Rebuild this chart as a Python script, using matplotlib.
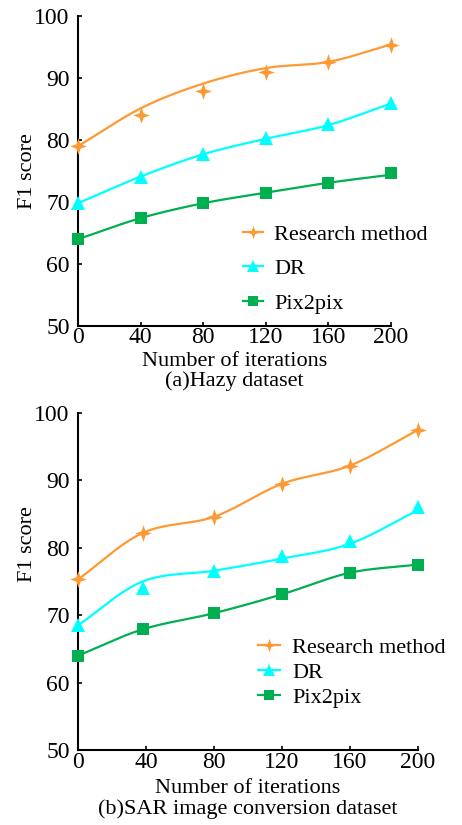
import numpy as np
import matplotlib
matplotlib.use("Agg")
import matplotlib.pyplot as plt
from matplotlib.path import Path

plt.rcParams['font.family'] = ['Liberation Serif', 'DejaVu Serif']
plt.rcParams['mathtext.fontset'] = 'stix'

# ---------------- data ----------------
iters_a = [0, 40, 80, 120, 160, 200]
iters_b = [0, 38, 80, 120, 160, 200]
xticks = [0, 40, 80, 120, 160, 200]
yticks = [50, 60, 70, 80, 90, 100]
series_names = ["Research method", "DR", "Pix2pix"]

# (a) Hazy dataset: marker values and smoothed trend values
hazy_research = [79.0, 84.1, 87.9, 90.9, 92.6, 95.4]
hazy_research_trend = [79.0, 85.1, 89.1, 91.6, 92.6, 95.4]
hazy_dr = [69.8, 74.1, 77.7, 80.4, 82.6, 85.9]
hazy_dr_trend = [69.8, 74.1, 77.7, 80.2, 82.4, 85.9]
hazy_pix = [64.0, 67.4, 69.8, 71.5, 73.1, 74.6]
hazy_pix_trend = [64.0, 67.4, 69.8, 71.5, 73.1, 74.4]

# (b) SAR image conversion dataset
sar_research = [75.3, 82.2, 84.6, 89.5, 92.2, 97.5]
sar_research_trend = [75.3, 82.2, 84.6, 89.5, 92.2, 97.5]
sar_dr = [68.5, 74.0, 76.6, 78.8, 81.0, 86.0]
sar_dr_trend = [68.5, 75.0, 76.6, 78.4, 80.6, 85.6]
sar_pix = [64.0, 67.9, 70.3, 73.1, 76.3, 77.5]
sar_pix_trend = [64.0, 67.9, 70.3, 73.1, 76.3, 77.5]

colors = ["#FF9933", "#00FFFF", "#00B050"]

# 4-point star marker
r_out, r_in = 1.0, 0.36
verts = []
for k in range(8):
    ang = np.pi / 2 + k * np.pi / 4
    r = r_out if k % 2 == 0 else r_in
    verts.append((r * np.cos(ang), r * np.sin(ang)))
verts.append(verts[0])
star = Path(verts, [Path.MOVETO] + [Path.LINETO] * 7 + [Path.CLOSEPOLY])
markers = [star, "^", "s"]
msizes = [12, 10, 9]


def catmull_rom(x, y, n=40):
    p = np.column_stack([np.asarray(x, float), np.asarray(y, float)])
    pts = np.vstack([2 * p[0] - p[1], p, 2 * p[-1] - p[-2]])
    out = []
    t = np.linspace(0, 1, n)[:, None]
    for i in range(1, len(pts) - 2):
        p0, p1, p2, p3 = pts[i - 1], pts[i], pts[i + 1], pts[i + 2]
        seg = 0.5 * ((2 * p1) + (-p0 + p2) * t + (2 * p0 - 5 * p1 + 4 * p2 - p3) * t ** 2
                     + (-p0 + 3 * p1 - 3 * p2 + p3) * t ** 3)
        out.append(seg if i == 1 else seg[1:])
    out = np.vstack(out)
    return out[:, 0], out[:, 1]


fig = plt.figure(figsize=(4.62, 8.25), dpi=100)

W, H = 462.0, 825.0
FS = 16
TFS = 17


def make_axes(l, r, t, b):
    return fig.add_axes([l / W, 1 - b / H, (r - l) / W, (b - t) / H])


ax_a = make_axes(78, 391, 16, 326)
ax_b = make_axes(78, 418, 413, 750)

panels = [
    (ax_a, iters_a, [hazy_research, hazy_dr, hazy_pix],
     [hazy_research_trend, hazy_dr_trend, hazy_pix_trend], "(a)Hazy dataset",
     dict(bbox=(0.527, 0.328), ls=0.62, hl=0.9, htp=0.5), (-0.131, 0.5), 0.5,
     dict(lp=3, lsp=1.02)),
    (ax_b, iters_b, [sar_research, sar_dr, sar_pix],
     [sar_research_trend, sar_dr_trend, sar_pix_trend], "(b)SAR image conversion dataset",
     dict(bbox=(0.529, 0.335), ls=0.2, hl=1.0, htp=0.55), (-0.121, 0.61), 1.5,
     dict(lp=4, lsp=1.12)),
]

for ax, xs, vals, trends, caption, leg, ylab_pos, xpad, xl in panels:
    handles = []
    for name, v, tr, c, m, ms in zip(series_names, vals, trends, colors, markers, msizes):
        cx, cy = catmull_rom(xs, tr)
        ax.plot(cx, cy, color=c, lw=1.6, zorder=2)
        ax.plot(xs, v, linestyle='none', marker=m, markersize=ms, color=c,
                markeredgewidth=0, zorder=3, clip_on=False)
        h, = ax.plot([], [], color=c, lw=1.6, marker=m, markersize=ms * 0.8,
                     markeredgewidth=0, label=name)
        handles.append(h)
    ax.set_xlim(0, 200)
    ax.set_ylim(50, 100)
    ax.set_xticks(xticks)
    ax.set_yticks(yticks)
    for s in ["top", "right"]:
        ax.spines[s].set_visible(False)
    for s in ["left", "bottom"]:
        ax.spines[s].set_linewidth(1.5)
        ax.spines[s].set_color("black")
    ax.tick_params(direction="in", length=3, width=1.2, labelsize=TFS, colors="black")
    ax.tick_params(axis="y", pad=6)
    ax.tick_params(axis="x", pad=xpad)
    ax.set_ylabel("F1 score", fontsize=FS)
    ax.yaxis.set_label_coords(*ylab_pos)
    ax.set_xlabel("Number of iterations\n" + caption, fontsize=FS, labelpad=xl["lp"],
                  linespacing=xl["lsp"])
    ax.legend(handles=handles, loc="upper left", bbox_to_anchor=leg["bbox"],
              frameon=False, fontsize=FS, borderpad=0, borderaxespad=0,
              labelspacing=leg["ls"], handlelength=leg["hl"], handletextpad=leg["htp"])

fig.savefig("out.png", dpi=100)
